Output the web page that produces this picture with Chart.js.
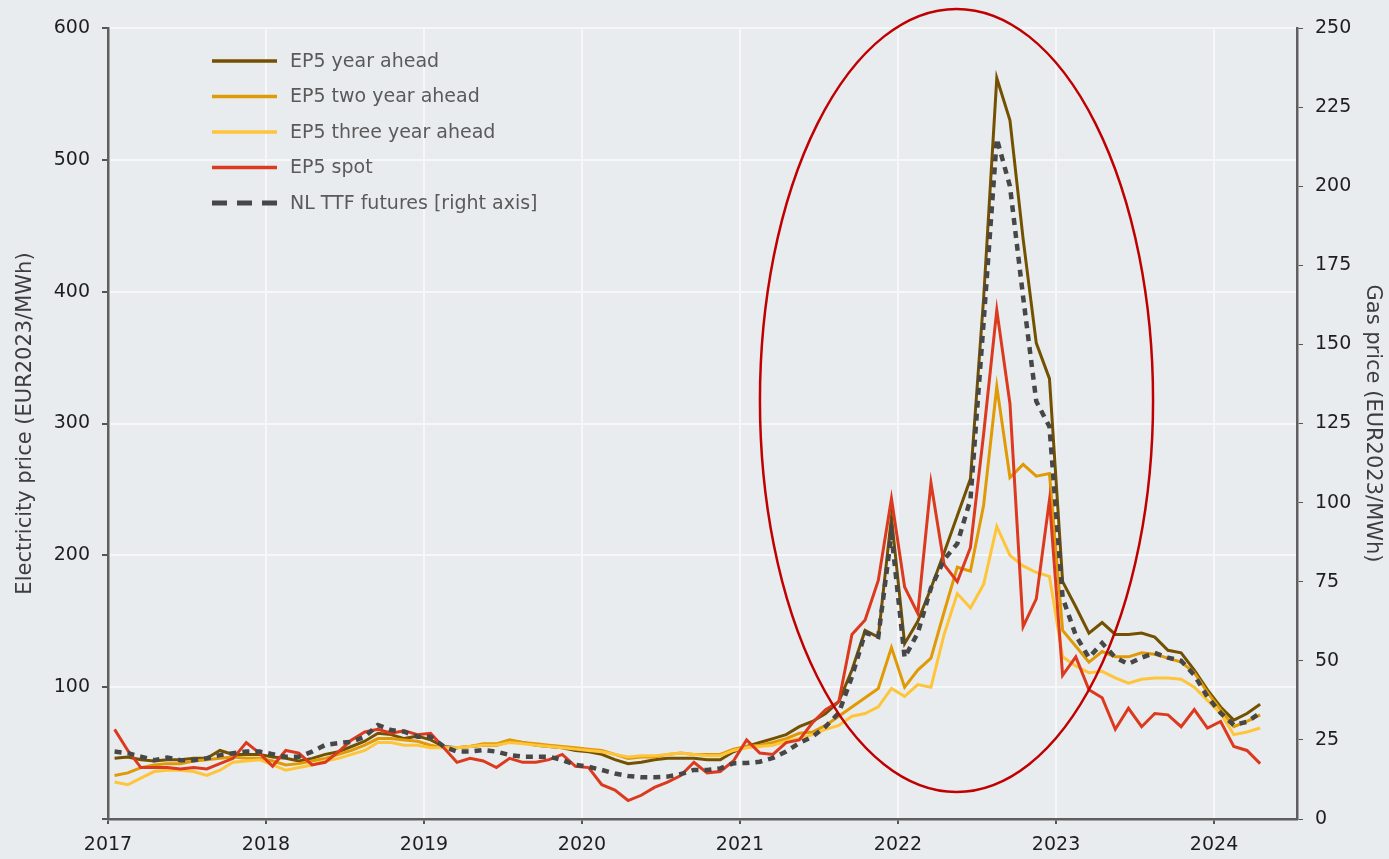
<!DOCTYPE html>
<html>
<head>
<meta charset="utf-8">
<script src="https://cdn.jsdelivr.net/npm/chart.js@4.4.1/dist/chart.umd.min.js"></script>
<style>
    html, body { margin: 0; padding: 0; background: #e9ecef; }
    #wrap { width: 1389px; height: 859px; }
</style>
</head>
<body>
<div id="wrap"><canvas id="chart"></canvas></div>
<script>
(function () {
    'use strict';

    // Monthly observations, Jan 2017 .. Apr 2024
    var START_YEAR = 2017;
    var MONTH_COUNT = 88;
    var yearTicks = [2017, 2018, 2019, 2020, 2021, 2022, 2023, 2024];

    // EUR2023/MWh, left axis
    var yearAhead = [
        46, 47, 45, 44, 45, 45, 46, 46, 52, 49, 49, 49,
        47, 46, 44, 46, 49, 51, 55, 59, 65, 64, 61, 63,
        60, 55, 54, 55, 56, 56, 59, 58, 56, 55, 54, 52,
        51, 49, 45, 42, 43, 45, 46, 46, 46, 45, 45, 51,
        55, 58, 61, 64, 70, 74, 80, 89, 113, 143, 138, 229,
        133, 150, 175, 202, 230, 258, 395, 562, 530, 440, 361, 334,
        180, 161, 141, 149, 140, 140, 141, 138, 128, 126, 113, 98,
        85, 75, 80, 87
    ];
    var twoYearAhead = [
        33, 35, 39, 41, 42, 42, 44, 45, 46, 47, 46, 46,
        44, 41, 42, 44, 46, 49, 52, 56, 61, 61, 60, 59,
        56, 54, 54, 55, 57, 57, 60, 58, 57, 56, 55, 54,
        53, 52, 49, 46, 47, 47, 49, 50, 49, 49, 49, 53,
        55, 56, 58, 61, 65, 66, 71, 78, 85, 92, 99, 130,
        100, 113, 122, 157, 191, 188, 238, 328, 259, 269, 260, 262,
        143, 131, 119, 127, 123, 123, 126, 125, 122, 119, 111, 96,
        83, 70, 74, 79
    ];
    var threeYearAhead = [
        28, 26, 31, 36, 37, 37, 36, 33, 37, 43, 44, 45,
        41, 37, 39, 41, 44, 46, 49, 52, 58, 58, 56, 56,
        54, 54, 54, 55, 56, 56, 58, 57, 56, 55, 54, 53,
        52, 51, 49, 47, 48, 48, 49, 50, 49, 48, 48, 52,
        54, 55, 56, 59, 61, 64, 68, 71, 78, 80, 85, 99,
        93, 102, 100, 140, 171, 160, 178, 222, 200, 192, 187, 184,
        123, 116, 111, 112, 107, 103, 106, 107, 107, 106, 100, 90,
        80, 64, 66, 69
    ];
    var spot = [
        68, 52, 39, 39, 39, 38, 39, 38, 42, 46, 58, 50,
        40, 52, 50, 41, 43, 51, 60, 66, 68, 65, 67, 64,
        65, 54, 43, 46, 44, 39, 46, 43, 43, 45, 49, 40,
        39, 26, 22, 14, 18, 24, 28, 33, 43, 35, 36, 44,
        60, 50, 49, 58, 60, 73, 83, 89, 140, 151, 181, 243,
        176, 156, 255, 193, 180, 206, 292, 386, 315, 146, 167, 242,
        109, 123, 98, 92, 68, 84, 70, 80, 79, 70, 83, 69,
        74, 55, 52, 42
    ];
    // EUR2023/MWh, right axis
    var ttfFutures = [
        21.3, 20.8, 19.7, 18.6, 19.4, 18.6, 18.6, 19.2, 20.2, 20.8, 21.3, 21.3,
        20.5, 19.7, 19.7, 21.3, 23.4, 24.0, 24.4, 26.0, 29.7, 28.1, 27.6, 26.0,
        26.0, 22.9, 21.3, 21.3, 21.8, 21.3, 20.2, 19.7, 19.7, 19.7, 18.6, 17.1,
        16.5, 15.5, 14.4, 13.6, 13.2, 13.2, 13.4, 14.2, 15.5, 15.5, 16.0, 17.6,
        17.7, 18.1, 19.3, 21.3, 24.0, 26.0, 29.2, 33.5, 45.0, 58.8, 57.6, 90.0,
        51.0, 58.8, 73.0, 82.0, 87.0, 101, 157, 215, 200, 165, 132, 124,
        70.0, 58.0, 51.0, 55.6, 51.0, 49.0, 51.0, 52.5, 51.0, 50.0, 45.5, 38.6,
        33.5, 29.7, 30.7, 33.5
    ];

    // decimal year at mid-month for each observation
    var months = [];
    for (var i = 0; i < MONTH_COUNT; i++) {
        months.push(START_YEAR + (i + 0.5) / 12);
    }

    function toPoints(values) {
        return values.map(function (v, i) { return { x: months[i], y: v }; });
    }

    var FONT = "'DejaVu Sans', sans-serif";
    Chart.defaults.font.family = FONT;
    Chart.defaults.font.size = 19;

    // later series are painted on top (order 0 = topmost)
    var seriesDefs = [
        { label: 'EP5 year ahead', data: yearAhead, color: '#735100', axis: 'y', order: 4 },
        { label: 'EP5 two year ahead', data: twoYearAhead, color: '#e09a05', axis: 'y', order: 3 },
        { label: 'EP5 three year ahead', data: threeYearAhead, color: '#ffc53a', axis: 'y', order: 2 },
        { label: 'EP5 spot', data: spot, color: '#dc3a1f', axis: 'y', order: 1 },
        { label: 'NL TTF futures [right axis]', data: ttfFutures, color: '#474747', axis: 'y1', order: 0, dash: [7, 6] }
    ];

    var datasets = seriesDefs.map(function (s) {
        return {
            label: s.label,
            data: toPoints(s.data),
            yAxisID: s.axis,
            order: s.order,
            borderColor: s.color,
            backgroundColor: s.color,
            borderWidth: s.dash ? 4.5 : 3,
            borderDash: s.dash || [],
            pointRadius: 0,
            tension: 0,
            fill: false
        };
    });

    // Red ellipse highlighting the 2021-2023 crisis
    var ellipsePlugin = {
        id: 'crisisEllipse',
        afterDatasetsDraw: function (chart) {
            var xs = chart.scales.x, ys = chart.scales.y;
            var cx = xs.getPixelForValue(2022.37);
            var rx = xs.getPixelForValue(2022.37 + 1.244) - cx;
            var cy = ys.getPixelForValue(317.5);
            var ry = ys.getPixelForValue(317.5 - 297) - cy;
            var ctx = chart.ctx;
            ctx.save();
            ctx.beginPath();
            ctx.ellipse(cx, cy, rx, ry, 0, 0, Math.PI * 2);
            ctx.strokeStyle = '#c00000';
            ctx.lineWidth = 2.5;
            ctx.stroke();
            ctx.restore();
        }
    };

    // Legend inside the plot, top left
    var legendPlugin = {
        id: 'innerLegend',
        afterDraw: function (chart) {
            var ctx = chart.ctx;
            var left = chart.chartArea.left + 104;
            var top = chart.chartArea.top + 33;
            ctx.save();
            ctx.font = '19px ' + FONT;
            ctx.textBaseline = 'middle';
            chart.data.datasets.forEach(function (ds, i) {
                var y = top + i * 35.5;
                var dashed = ds.borderDash && ds.borderDash.length;
                ctx.beginPath();
                ctx.setLineDash(dashed ? [15, 10] : []);
                ctx.strokeStyle = ds.borderColor;
                ctx.lineWidth = dashed ? 5 : 3.5;
                ctx.moveTo(left, y);
                ctx.lineTo(left + 65, y);
                ctx.stroke();
                ctx.setLineDash([]);
                ctx.fillStyle = '#5a5a5a';
                ctx.fillText(ds.label, left + 78, y + 1);
            });
            ctx.restore();
        }
    };

    var chartCanvas = document.getElementById('chart');
    new Chart(chartCanvas, {
        type: 'line',
        data: { datasets: datasets },
        options: {
            responsive: true,
            maintainAspectRatio: false,
            animation: false,
            layout: { padding: { top: 28, left: 0, right: 0, bottom: 0 } },
            plugins: {
                legend: { display: false },
                tooltip: { enabled: false }
            },
            scales: {
                x: {
                    type: 'linear',
                    min: START_YEAR,
                    max: 2024.525,
                    afterBuildTicks: function (scale) {
                        scale.ticks = yearTicks.map(function (v) { return { value: v }; });
                    },
                    afterFit: function (scale) { scale.height = 40; },
                    ticks: {
                        color: '#1e1e1e',
                        padding: 10,
                        maxRotation: 0,
                        callback: function (v) { return String(v); }
                    },
                    grid: { color: '#f7f7f7', lineWidth: 2, tickColor: '#555', tickLength: 5 },
                    border: { color: '#5f5f5f', width: 2.5 }
                },
                y: {
                    position: 'left',
                    min: 0,
                    max: 600,
                    afterFit: function (scale) { scale.width = 108; },
                    ticks: {
                        stepSize: 100,
                        color: '#1e1e1e',
                        padding: 12,
                        callback: function (v) { return v === 0 ? '' : v; }
                    },
                    grid: { color: '#f7f7f7', lineWidth: 2, tickColor: '#555', tickLength: 6 },
                    border: { color: '#5f5f5f', width: 2.5 },
                    title: {
                        display: true,
                        text: 'Electricity price (EUR2023/MWh)',
                        color: '#3d3d3d',
                        font: { size: 21 },
                        padding: { top: 13, bottom: 0 }
                    }
                },
                y1: {
                    position: 'right',
                    min: 0,
                    max: 250,
                    afterFit: function (scale) { scale.width = 92; },
                    ticks: { stepSize: 25, color: '#1e1e1e', padding: 12 },
                    grid: { drawOnChartArea: false, tickColor: '#555', tickLength: 6 },
                    border: { color: '#5f5f5f', width: 2.5 },
                    title: {
                        display: true,
                        text: 'Gas price (EUR2023/MWh)',
                        color: '#3d3d3d',
                        font: { size: 21 },
                        padding: { top: 4, bottom: 0 }
                    }
                }
            }
        },
        plugins: [ellipsePlugin, legendPlugin]
    });
})();
</script>
</body>
</html>
